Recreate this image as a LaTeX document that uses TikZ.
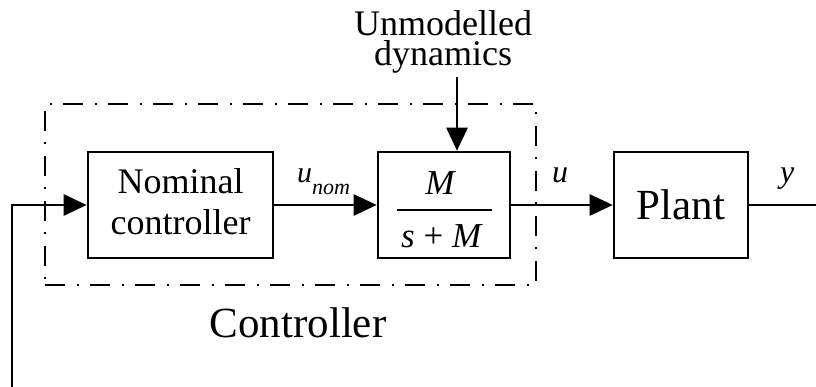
\documentclass[tikz,border=0pt]{standalone}
\usepackage{fontspec}
\setmainfont{Liberation Serif}
\usetikzlibrary{arrows.meta}
\begin{document}
\begin{tikzpicture}[x=1pt,y=-1pt,
  blk/.style={draw,line width=2.6pt,inner sep=0pt,align=center},
  sig/.style={line width=2.6pt,-{Triangle[length=23pt,width=21pt]}},
  wire/.style={line width=2.6pt},
  grp/.style={draw,line width=2pt,dash pattern=on 20pt off 11.5pt on 2pt off 11.5pt,inner sep=0pt},
  lbl/.style={inner sep=0pt}]
\useasboundingbox (0,0) rectangle (816,387);
% controller group
\node[grp,minimum width=491pt,minimum height=181pt] (grpbox) at (290.5,194.5) {};
% blocks
\node[blk,minimum width=185pt,minimum height=106pt] (nom) at (180.5,205) {};
\node[lbl,anchor=base,align=center,font=\fontsize{36}{41}\selectfont] (nomtxt) at (180.5,235) {Nominal\\controller};
\node[blk,minimum width=132pt,minimum height=106pt] (frac) at (444,205) {};
\node[blk,minimum width=134pt,minimum height=106pt,font=\fontsize{43}{43}\selectfont] (plant) at (681,205) {Plant};
% fraction
\node[lbl,anchor=base,font=\fontsize{35}{35}\selectfont\itshape] (num) at (440,195) {M};
\node[lbl,anchor=base,font=\fontsize{35}{35}\selectfont] (den) at (442,248) {\textit{s} + \textit{M}};
\coordinate (fl) at (397,210);
\coordinate (fr) at (492,210);
\draw[line width=2pt] (fl) -- (fr);
% texts
\node[lbl,anchor=base,align=center,font=\fontsize{36}{30}\selectfont] (unm) at (443,66) {Unmodelled\\dynamics};
\node[lbl,anchor=base,font=\fontsize{43}{43}\selectfont] (ctrl) at (298,337) {Controller};
\node[lbl,anchor=base west] (unom) at (297,183) {\fontsize{30}{30}\selectfont\textit{u}\raisebox{-12pt}{\fontsize{22}{22}\selectfont\textit{nom}}};
\node[lbl,anchor=base west,font=\fontsize{32}{32}\selectfont\itshape] (ulbl) at (552,183) {u};
\node[lbl,anchor=base west,font=\fontsize{32}{32}\selectfont\itshape] (ylbl) at (780,183) {y};
% connectors
\coordinate (ud) at (457,77);
\draw[sig] (ud) -- (ud |- frac.north);
\coordinate (fb) at (12,388);
\draw[sig] (fb) |- (nom.west);
\draw[sig] (nom.east) -- (frac.west);
\draw[sig] (frac.east) -- (plant.west);
\coordinate (out) at (817,205);
\draw[wire] (plant.east) -- (out);
\end{tikzpicture}
\end{document}
